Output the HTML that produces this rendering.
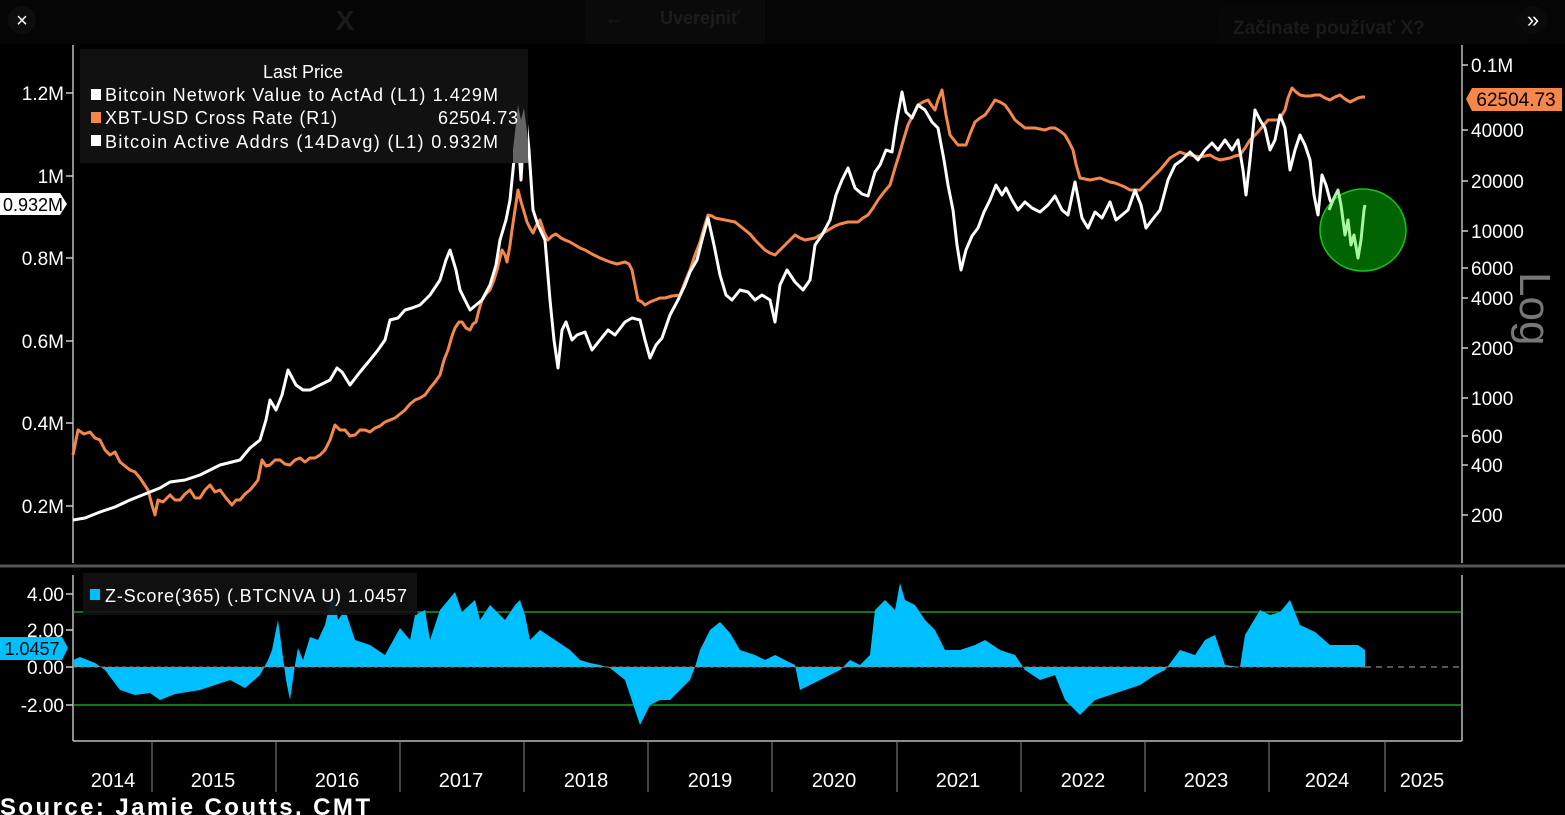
<!DOCTYPE html>
<html><head><meta charset="utf-8"><style>
html,body{margin:0;padding:0;background:#000;}
svg{display:block;font-family:"Liberation Sans",sans-serif;}
</style></head><body>
<svg width="1565" height="815" viewBox="0 0 1565 815" xmlns="http://www.w3.org/2000/svg">
<rect width="1565" height="815" fill="#000"/>
<!-- top bar -->
<rect x="0" y="0" width="1565" height="44" fill="#050505"/>
<rect x="585" y="0" width="180" height="44" fill="#0a0a0a"/>
<circle cx="22" cy="20" r="14" fill="#0d0d0d"/>
<text x="22" y="27" fill="#fff" font-size="20" text-anchor="middle">×</text>
<text x="345" y="30" fill="#1a1a1a" font-size="28" font-weight="bold" text-anchor="middle">X</text>
<text x="605" y="24" fill="#1c1c1c" font-size="18">←</text>
<text x="660" y="24" fill="#1c1c1c" font-size="18" font-weight="bold">Uverejniť</text>
<rect x="1218" y="6" width="312" height="38" rx="10" fill="#070707"/>
<text x="1233" y="34" fill="#1a1a1a" font-size="19" font-weight="bold">Začínate používať X?</text>
<circle cx="1533" cy="20" r="14" fill="#0a0a0a"/>
<text x="1533" y="27" fill="#fff" font-size="22" text-anchor="middle">»</text>

<!-- axes -->
<g stroke="#bbb" stroke-width="1.5" fill="none">
<line x1="73" y1="45" x2="73" y2="563"/>
<line x1="1462" y1="45" x2="1462" y2="563"/>
<line x1="73" y1="575" x2="73" y2="741"/>
<line x1="1462" y1="575" x2="1462" y2="741"/>
<line x1="73" y1="741" x2="1462" y2="741"/>
</g>
<line x1="0" y1="566" x2="1565" y2="566" stroke="#555" stroke-width="3"/>
<!-- year dividers -->
<g stroke="#888" stroke-width="1">
<line x1="152" y1="741" x2="152" y2="792"/><line x1="276" y1="741" x2="276" y2="792"/><line x1="400" y1="741" x2="400" y2="792"/><line x1="524" y1="741" x2="524" y2="792"/><line x1="648" y1="741" x2="648" y2="792"/><line x1="772" y1="741" x2="772" y2="792"/><line x1="897" y1="741" x2="897" y2="792"/><line x1="1021" y1="741" x2="1021" y2="792"/><line x1="1145" y1="741" x2="1145" y2="792"/><line x1="1269" y1="741" x2="1269" y2="792"/><line x1="1385" y1="741" x2="1385" y2="792"/>
</g>
<g fill="#fff" font-size="20" text-anchor="middle">
<text x="113" y="787">2014</text><text x="213" y="787">2015</text><text x="337" y="787">2016</text><text x="461" y="787">2017</text><text x="586" y="787">2018</text><text x="710" y="787">2019</text><text x="834" y="787">2020</text><text x="958" y="787">2021</text><text x="1083" y="787">2022</text><text x="1206" y="787">2023</text><text x="1327" y="787">2024</text><text x="1422" y="787">2025</text>
</g>
<!-- left ticks -->
<g fill="#fff" font-size="19" text-anchor="end">
<text x="64" y="100">1.2M</text><text x="64" y="183">1M</text><text x="64" y="265">0.8M</text><text x="64" y="348">0.6M</text><text x="64" y="430">0.4M</text><text x="64" y="513">0.2M</text>
</g>
<g stroke="#ccc" stroke-width="1.5">
<line x1="66" y1="93" x2="73" y2="93"/><line x1="66" y1="176" x2="73" y2="176"/><line x1="66" y1="258" x2="73" y2="258"/><line x1="66" y1="341" x2="73" y2="341"/><line x1="66" y1="423" x2="73" y2="423"/><line x1="66" y1="506" x2="73" y2="506"/>
<line x1="1462" y1="65" x2="1468" y2="65"/><line x1="1462" y1="130" x2="1468" y2="130"/><line x1="1462" y1="181" x2="1468" y2="181"/><line x1="1462" y1="231" x2="1468" y2="231"/><line x1="1462" y1="268" x2="1468" y2="268"/><line x1="1462" y1="298" x2="1468" y2="298"/><line x1="1462" y1="348" x2="1468" y2="348"/><line x1="1462" y1="398" x2="1468" y2="398"/><line x1="1462" y1="436" x2="1468" y2="436"/><line x1="1462" y1="465" x2="1468" y2="465"/><line x1="1462" y1="515" x2="1468" y2="515"/>
<line x1="66" y1="594" x2="73" y2="594"/><line x1="66" y1="630" x2="73" y2="630"/><line x1="66" y1="667" x2="73" y2="667"/><line x1="66" y1="705" x2="73" y2="705"/>
</g>
<g fill="#fff" font-size="19">
<text x="1471" y="72">0.1M</text><text x="1471" y="137">40000</text><text x="1471" y="188">20000</text><text x="1471" y="238">10000</text><text x="1471" y="275">6000</text><text x="1471" y="305">4000</text><text x="1471" y="355">2000</text><text x="1471" y="405">1000</text><text x="1471" y="443">600</text><text x="1471" y="472">400</text><text x="1471" y="522">200</text>
</g>
<text x="0" y="0" fill="#777" font-size="44" transform="translate(1520,272) rotate(90)">Log</text>
<g fill="#fff" font-size="19" text-anchor="end">
<text x="64" y="601">4.00</text><text x="64" y="637">2.00</text><text x="64" y="674">0.00</text><text x="64" y="712">-2.00</text>
</g>

<!-- orange BTC price -->
<polyline fill="none" stroke="#f5874a" stroke-width="3" stroke-linejoin="round" points="73,455 78,430 84,434 90,432 95,438 100,440 105,450 110,455 115,452 120,462 125,466 130,470 135,472 140,478 144,484 148,490 152,505 155,515 158,500 163,502 170,495 175,500 180,500 185,494 190,490 195,498 200,498 205,490 210,485 215,492 220,490 226,498 232,505 236,500 240,500 245,494 250,490 255,484 258,480 262,460 266,466 270,465 275,460 280,460 285,464 290,465 295,460 300,458 305,462 310,458 315,458 320,455 325,450 330,440 335,425 340,430 345,430 350,436 355,435 360,430 365,430 370,432 375,428 380,426 385,422 390,420 395,418 400,414 405,410 410,404 415,400 420,398 425,395 430,388 435,382 440,375 444,360 448,350 452,336 455,328 459,322 462,322 466,328 470,330 473,324 476,322 479,310 482,300 486,294 490,290 494,280 497,270 500,258 502,250 505,255 507,262 510,245 512,230 515,210 518,190 520,198 522,205 525,215 527,222 530,228 533,233 536,226 540,220 544,232 548,240 552,236 556,234 561,238 565,240 570,242 575,245 580,248 585,250 592,254 600,258 605,260 610,262 617,264 625,262 629,264 632,270 635,285 638,300 642,302 645,305 650,302 655,300 660,298 665,298 672,296 680,295 685,282 690,270 695,255 700,242 704,228 708,215 712,216 715,218 720,219 725,220 730,221 735,222 740,226 745,230 750,234 755,240 760,245 765,250 770,253 775,255 780,250 785,245 790,240 795,235 800,238 805,240 810,239 815,238 820,235 825,232 830,229 835,226 840,224 848,222 853,222 858,222 863,218 868,215 873,208 878,200 884,192 890,185 895,168 900,152 904,138 908,125 913,115 918,105 923,102 928,100 932,106 935,110 938,100 942,90 946,115 950,135 954,140 958,145 962,145 966,145 970,134 975,122 980,118 985,115 990,108 995,100 1000,102 1005,105 1010,112 1015,120 1020,124 1025,128 1030,128 1035,128 1040,129 1045,130 1050,128 1055,128 1060,131 1065,135 1069,142 1073,150 1076,164 1080,178 1085,179 1090,180 1095,179 1100,178 1105,180 1110,182 1115,183 1120,185 1125,187 1130,190 1135,190 1140,190 1145,185 1150,180 1155,175 1160,170 1165,164 1170,158 1175,155 1180,152 1185,154 1190,155 1195,156 1200,157 1205,156 1210,155 1215,158 1220,160 1225,159 1230,158 1235,156 1240,155 1245,148 1250,140 1254,136 1258,132 1263,126 1268,120 1273,120 1278,120 1282,115 1285,110 1288,98 1292,88 1296,92 1300,95 1305,96 1310,96 1315,95 1320,95 1325,98 1330,100 1335,97 1340,95 1345,99 1350,102 1354,100 1358,98 1362,97 1365,97"/>

<!-- white NVA -->
<polyline fill="none" stroke="#fff" stroke-width="3" stroke-linejoin="round" points="73,520 85,518 100,512 115,507 130,500 145,494 150,492 160,488 170,482 185,480 200,475 210,470 220,465 232,462 240,460 250,448 260,440 266,420 270,400 276,410 282,395 288,370 296,385 303,390 310,390 320,385 330,380 337,368 342,372 350,385 360,372 370,360 378,350 385,340 390,320 398,318 405,310 412,308 420,305 430,295 440,280 446,260 450,250 456,270 460,290 465,300 470,310 476,305 482,300 490,285 496,265 500,240 506,220 510,200 514,160 517,118 521,180 525,108 529,150 533,210 538,225 545,240 550,300 554,340 558,368 562,330 566,322 572,340 577,335 585,332 592,350 600,340 608,330 615,335 625,322 632,318 640,320 645,340 650,358 656,345 662,338 670,315 678,300 685,285 690,272 697,260 702,240 708,218 714,245 720,275 726,295 732,300 740,290 748,292 755,300 762,295 770,300 775,322 780,285 787,270 795,282 803,290 810,280 815,245 822,235 830,220 836,195 842,180 848,168 855,188 862,194 868,196 875,172 880,165 886,150 892,152 896,125 902,92 906,112 912,118 918,105 925,110 932,122 938,128 944,160 948,185 953,210 957,245 961,270 966,250 972,236 978,228 984,212 990,200 996,185 1002,195 1006,188 1012,200 1018,210 1025,202 1032,208 1040,212 1048,205 1055,196 1062,210 1068,215 1075,182 1082,218 1088,228 1095,212 1102,218 1110,202 1116,220 1122,215 1128,210 1135,190 1141,205 1146,228 1152,220 1160,210 1168,180 1175,165 1182,160 1190,152 1198,160 1205,150 1212,143 1218,150 1225,140 1232,150 1238,140 1243,170 1246,195 1250,160 1255,110 1260,120 1265,128 1270,150 1275,140 1280,115 1285,128 1290,170 1295,150 1300,135 1305,145 1310,160 1314,195 1318,215 1322,175 1326,185 1330,200 1335,210"/>
<!-- green circle -->
<ellipse cx="1363" cy="230" rx="43" ry="41" fill="#006400" stroke="#16c416" stroke-width="1.5"/>
<polyline fill="none" stroke="#a9f5a0" stroke-width="3" stroke-linejoin="round" points="1329,210 1334,198 1338,190 1341,205 1345,235 1348,220 1351,245 1354,235 1358,258 1361,240 1364,210 1365,205"/>

<!-- legend -->
<rect x="80" y="49" width="448" height="114" fill="#111"/>
<polygon points="513,150 518,105 521,120 524,108 528,140 528,163 513,163" fill="#888" opacity="0.7"/>
<g fill="#fff" font-size="18">
<text x="303" y="78" text-anchor="middle">Last Price</text>
<rect x="91" y="89" width="10" height="11" fill="#fff"/>
<text x="105" y="101" textLength="393" lengthAdjust="spacing">Bitcoin Network Value to ActAd  (L1) 1.429M</text>
<rect x="91" y="112" width="10" height="11" fill="#f5874a"/>
<text x="105" y="124" textLength="232" lengthAdjust="spacing">XBT-USD Cross Rate  (R1)</text>
<text x="438" y="124" textLength="80" lengthAdjust="spacing">62504.73</text>
<rect x="91" y="135" width="10" height="11" fill="#fff"/>
<text x="105" y="148" textLength="393" lengthAdjust="spacing">Bitcoin Active Addrs (14Davg)  (L1)  0.932M</text>
</g>
<!-- value tags -->
<polygon points="0,193 60,193 67,204 60,215 0,215" fill="#fff"/>
<text x="33" y="211" fill="#000" font-size="18" text-anchor="middle">0.932M</text>
<polygon points="1472,88 1562,88 1562,111 1472,111 1466,99" fill="#f5874a"/>
<text x="1516" y="106" fill="#000" font-size="19" text-anchor="middle">62504.73</text>

<!-- z-score panel -->
<line x1="73" y1="612" x2="1462" y2="612" stroke="#22bb22" stroke-width="1.2"/>
<line x1="73" y1="705" x2="1462" y2="705" stroke="#22bb22" stroke-width="1.2"/>
<polygon fill="#00bfff" points="73,667 73,660 80,657 95,663 105,670 120,690 135,695 150,693 160,700 175,694 200,690 230,680 245,688 260,675 268,660 272,650 278,620 282,650 286,680 290,700 295,665 298,648 303,660 310,637 318,640 325,625 333,590 338,620 345,610 355,640 370,645 385,655 400,628 410,640 415,615 425,610 430,640 440,610 455,592 462,612 475,600 480,620 490,605 505,620 515,605 520,600 525,615 530,640 540,630 555,640 570,650 580,660 590,663 600,665 610,668 625,680 635,710 640,725 650,705 660,700 670,700 680,690 690,680 695,667 700,650 710,630 720,622 730,633 740,650 755,655 765,660 775,655 785,660 795,665 800,690 810,685 820,680 830,675 840,670 850,660 860,665 870,655 875,610 885,600 895,610 900,583 905,600 915,605 925,620 935,630 945,650 960,650 975,645 985,640 1000,650 1015,655 1025,670 1040,680 1055,675 1065,700 1080,715 1095,700 1110,695 1125,690 1140,685 1155,675 1165,670 1180,650 1195,655 1205,640 1215,635 1225,665 1240,667 1245,635 1260,610 1270,615 1280,612 1290,600 1300,625 1315,632 1330,645 1345,645 1358,645 1365,650 1365,667"/>
<line x1="73" y1="667" x2="1365" y2="667" stroke="#e06030" stroke-width="1" stroke-dasharray="4,3"/>
<line x1="1365" y1="667" x2="1462" y2="667" stroke="#aaa" stroke-width="1" stroke-dasharray="6,5"/>
<rect x="83" y="573" width="334" height="42" fill="#111" opacity="0.92"/>
<rect x="90" y="589" width="10" height="11" fill="#00bfff"/>
<text x="105" y="602" fill="#fff" font-size="18" textLength="302" lengthAdjust="spacing">Z-Score(365) (.BTCNVA U) 1.0457</text>
<polygon points="0,637 62,637 68,648 62,660 0,660" fill="#00bfff"/>
<text x="32" y="655" fill="#000" font-size="18" text-anchor="middle">1.0457</text>

<text x="0" y="815" fill="#fff" font-size="24" font-weight="bold" textLength="370" lengthAdjust="spacing">Source: Jamie Coutts, CMT</text>
</svg>
</body></html>
